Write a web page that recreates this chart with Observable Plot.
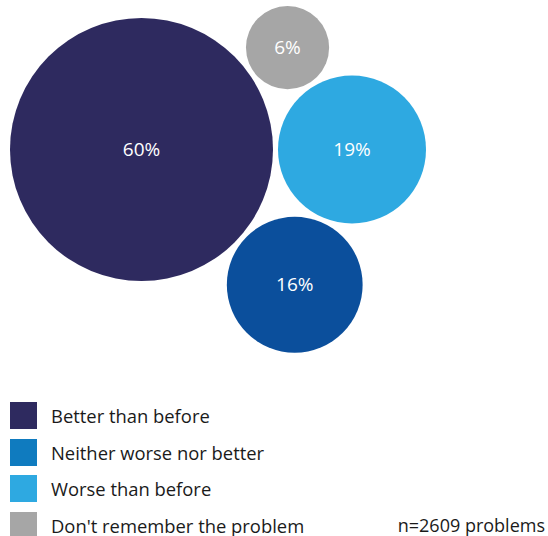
<!DOCTYPE html>
<html>
<head>
<meta charset="utf-8">
<script src="https://cdn.jsdelivr.net/npm/d3@7"></script>
<script src="https://cdn.jsdelivr.net/npm/@observablehq/plot@0.6"></script>
<style>
  html, body { margin: 0; padding: 0; background: #fff; overflow: hidden; }
  body { width: 548px; height: 536px; font-family: "Open Sans", sans-serif; color: #1a1a1a; }
  #chart svg { display: block; }
  #legend { padding: 12px 0 0 10px; }
  .row { display: flex; align-items: center; height: 27px; margin-bottom: 9.5px; font-size: 18.4px; }
  .sw { width: 27px; height: 27px; flex: none; margin-right: 14px; }
  .note { margin-left: auto; padding-right: 3px; font-size: 18px; }
</style>
</head>
<body>
<div id="chart"></div>
<div id="legend"></div>
<script>
const categories = ["Better than before", "Neither worse nor better", "Worse than before", "Don't remember the problem"];
const values = [60, 16, 19, 6];
const labels = ["60%", "16%", "19%", "6%"];
const circleColors = ["#2e2a5f", "#0b4f9c", "#2ea9e1", "#a6a6a6"];
const legendColors = ["#2e2a5f", "#0f7bbf", "#2ea9e1", "#a6a6a6"];
const note = "n=2609 problems";

const W = 548, H = 390;
const rMax = 131.5, gap = 5, padLeft = 9.5, padTop = 5.5;
const rScale = d3.scaleSqrt().domain([0, d3.max(values)]).range([0, rMax]);

const nodes = categories.map((c, i) => ({
  category: c, value: values[i], label: labels[i], color: circleColors[i],
  r: rScale(values[i]) + gap / 2
}));
d3.packSiblings(nodes.slice().sort((a, b) => b.value - a.value));
const x0 = d3.min(nodes, d => d.x - rScale(d.value));
const y0 = d3.min(nodes, d => d.y - rScale(d.value));
nodes.forEach(d => { d.px = d.x - x0 + padLeft; d.py = d.y - y0 + padTop; });

const chart = Plot.plot({
  width: W, height: H, margin: 0,
  style: { fontFamily: "Open Sans, sans-serif", background: "white" },
  x: { type: "identity", axis: null },
  y: { type: "identity", axis: null },
  r: { type: "sqrt", domain: [0, d3.max(values)], range: [0, rMax] },
  color: { type: "identity" },
  marks: [
    Plot.dot(nodes, { x: "px", y: "py", r: "value", fill: "color", stroke: null }),
    Plot.text(nodes, { x: "px", y: "py", text: "label", fill: "white", fontSize: 19 })
  ]
});
document.getElementById("chart").appendChild(chart);

const legend = document.getElementById("legend");
categories.forEach((c, i) => {
  const row = document.createElement("div");
  row.className = "row";
  const sw = document.createElement("div");
  sw.className = "sw";
  sw.style.background = legendColors[i];
  const t = document.createElement("span");
  t.textContent = c;
  row.appendChild(sw);
  row.appendChild(t);
  if (i === categories.length - 1) {
    const n = document.createElement("span");
    n.className = "note";
    n.textContent = note;
    row.appendChild(n);
  }
  legend.appendChild(row);
});
</script>
</body>
</html>
